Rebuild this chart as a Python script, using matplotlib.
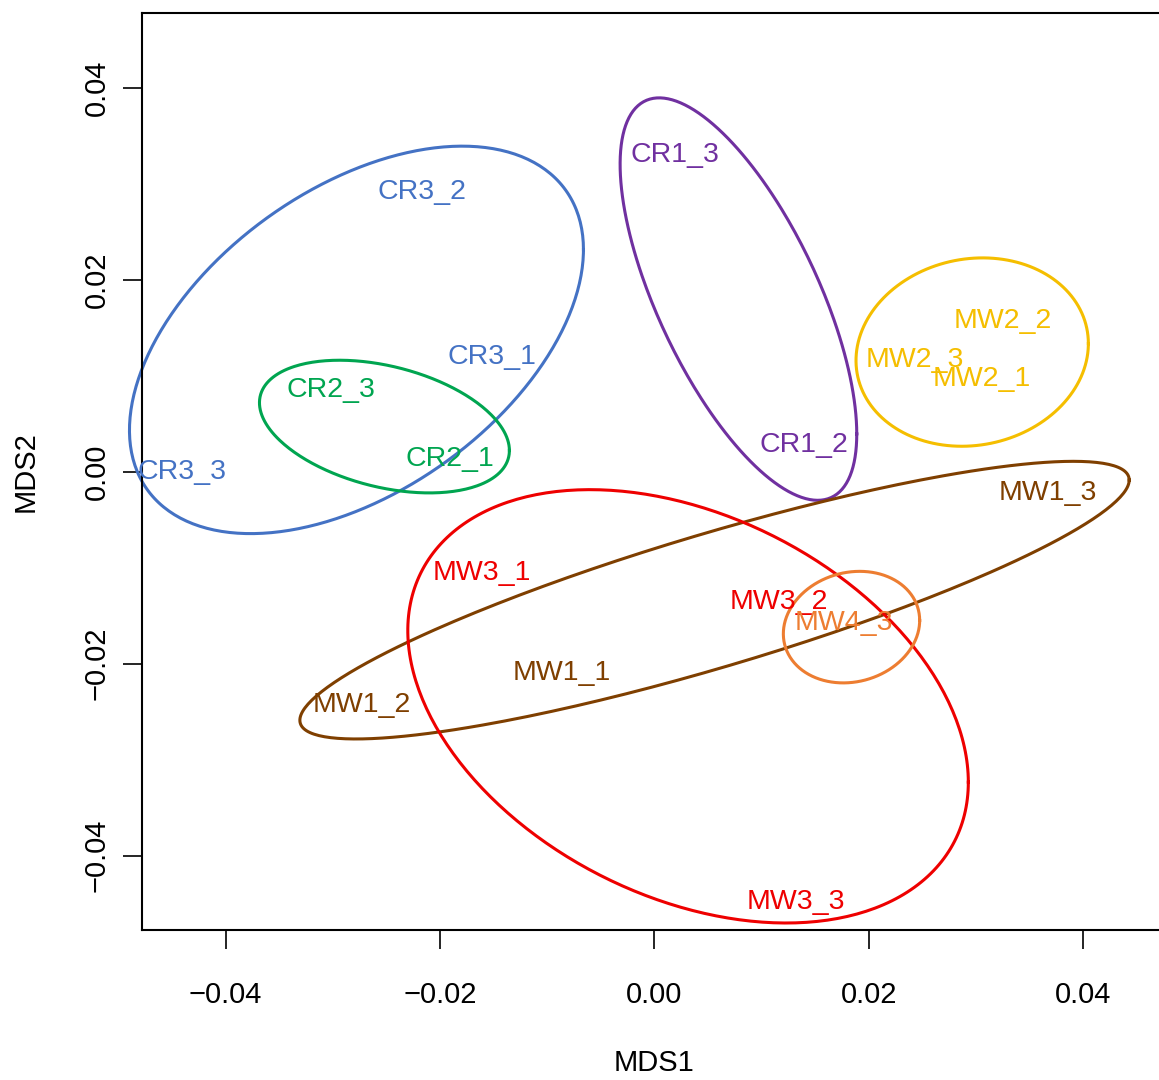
#!/usr/bin/env python3
# -*- coding: utf-8 -*-

import numpy as np
import matplotlib
matplotlib.use("Agg")
import matplotlib.pyplot as plt

plt.rcParams['font.family'] = ['Liberation Sans', 'DejaVu Sans']

# NMDS site scores (label positions)
sites = ['CR3_2', 'CR3_1', 'CR3_3', 'CR2_3', 'CR2_1', 'CR1_3', 'CR1_2',
         'MW2_2', 'MW2_3', 'MW2_1', 'MW1_3', 'MW3_1', 'MW3_2', 'MW4_3',
         'MW1_1', 'MW1_2', 'MW3_3']
mds1 = [-0.02166, -0.01516, -0.04408, -0.03020, -0.01905, 0.00194, 0.01396,
        0.03254, 0.02433, 0.03058, 0.03674, -0.01608, 0.01159, 0.01767,
        -0.00861, -0.02728, 0.01320]
mds2 = [0.02911, 0.01198, -0.00005, 0.00846, 0.00133, 0.03294, 0.00273,
        0.01566, 0.01167, 0.00967, -0.00222, -0.01055, -0.01359, -0.01580,
        -0.02097, -0.02427, -0.04481]
site_group = ['CR3', 'CR3', 'CR3', 'CR2', 'CR2', 'CR1', 'CR1',
              'MW2', 'MW2', 'MW2', 'MW1', 'MW3', 'MW3', 'MW4',
              'MW1', 'MW1', 'MW3']

# group ellipses: centre, half extent along x / y, correlation
groups = ['CR3', 'CR2', 'CR1', 'MW2', 'MW1', 'MW3', 'MW4']
ell_cx = [-0.02779, -0.02518, 0.00785, 0.02966, 0.00562, 0.00315, 0.01840]
ell_cy = [0.01372, 0.00469, 0.01797, 0.01245, -0.01339, -0.02445, -0.01620]
ell_rx = [0.02118, 0.01166, 0.01104, 0.01084, 0.03869, 0.02615, 0.00636]
ell_ry = [0.02018, 0.00691, 0.02096, 0.00981, 0.01446, 0.02257, 0.00581]
ell_rho = [0.466, -0.36, -0.67, 0.09, 0.865, -0.35, 0.12]

group_colors = {
    'CR3': '#4472C4',
    'CR2': '#00A550',
    'CR1': '#7030A0',
    'MW2': '#F5BE00',
    'MW1': '#7F3F00',
    'MW3': '#EE0000',
    'MW4': '#ED7D31',
}

ticks = [-0.04, -0.02, 0.00, 0.02, 0.04]
tick_labels = ['\u22120.04', '\u22120.02', '0.00', '0.02', '0.04']


def ellipse_xy(cx, cy, rx, ry, rho, n=300):
    t = np.linspace(0, 2 * np.pi, n)
    x = cx + rx * np.cos(t)
    y = cy + ry * (rho * np.cos(t) + np.sqrt(1 - rho ** 2) * np.sin(t))
    return x, y


fig = plt.figure(figsize=(11.59, 10.80), dpi=100)
ax = fig.add_axes([0.12252, 0.13843, 0.88404, 0.84981])

# ellipses (not clipped to the plot box, like R)
for g, cx, cy, rx, ry, rho in zip(groups, ell_cx, ell_cy, ell_rx, ell_ry, ell_rho):
    ex, ey = ellipse_xy(cx, cy, rx, ry, rho)
    ax.plot(ex, ey, color=group_colors[g], lw=2.2, clip_on=False)

# site labels
for name, x, y, g in zip(sites, mds1, mds2, site_group):
    ax.text(x, y, name, color=group_colors[g], fontsize=20.5,
            ha='center', va='center')

ax.set_xlim(-0.0478, 0.0478)
ax.set_ylim(-0.0478, 0.0478)

ax.set_xticks(ticks)
ax.set_xticklabels(tick_labels)
ax.set_yticks(ticks)
ax.set_yticklabels(tick_labels, rotation=90, va='center')
ax.tick_params(axis='x', length=13.7, width=1.2, pad=23, labelsize=21)
ax.tick_params(axis='y', length=13.7, width=1.2, pad=9, labelsize=21)

for s in ax.spines.values():
    s.set_linewidth(1.5)

ax.set_xlabel('MDS1', fontsize=21, va='center')
ax.xaxis.set_label_coords(0.5, -0.1444)
ax.set_ylabel('MDS2', fontsize=21, va='center')
ax.yaxis.set_label_coords(-0.114, 0.5)

fig.savefig('out.png', dpi=100)
